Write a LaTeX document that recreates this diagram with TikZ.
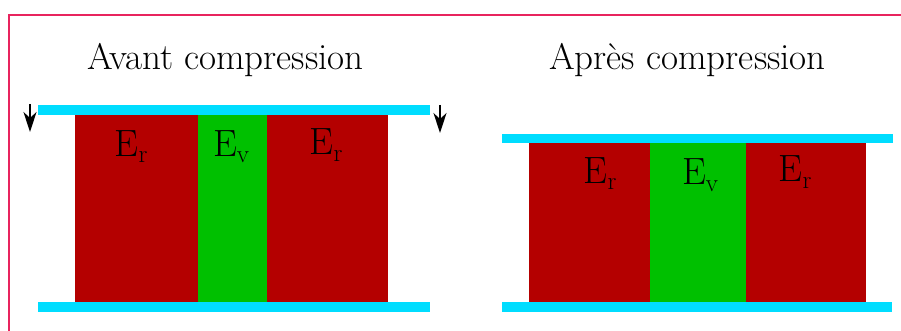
\documentclass[tikz,border=0pt]{standalone}
\usepackage{tikz}
\usetikzlibrary{arrows.meta}

\definecolor{cadreRose}{RGB}{232,36,94}
\definecolor{ressortRouge}{RGB}{180,0,0}
\definecolor{vitreVert}{RGB}{0,192,0}
\definecolor{plaqueCyan}{RGB}{0,221,255}

% E with a lowered index
\newcommand{\Eind}[1]{E\raisebox{-6pt}{\fontsize{25}{25}\selectfont #1}}

\begin{document}
\begin{tikzpicture}[x=1pt, y=-1pt,
  plaque/.style={fill=plaqueCyan},
  rouge/.style={fill=ressortRouge},
  vert/.style={fill=vitreVert},
  titre/.style={anchor=base, inner sep=0pt, font=\fontsize{37}{44}\selectfont},
  etiq/.style={anchor=base, inner sep=0pt, font=\fontsize{38}{44}\selectfont},
  fleche/.style={-{Stealth[length=20pt,width=13pt,inset=6pt]}, line width=1.8pt}
]
\useasboundingbox (0,0) rectangle (901,331);
\draw[cadreRose, line width=2.2pt] (9,15) rectangle (920,350);

% avant compression
\node[titre] (tavant) at (225.5,70) {Avant compression};
\fill[plaque] (38,105) rectangle (430,115);
\fill[rouge]  (75,115) rectangle (198,302);
\fill[vert]   (198,115) rectangle (267,302);
\fill[rouge]  (267,115) rectangle (388,302);
\fill[plaque] (38,302) rectangle (430,312);
\node[etiq] (er1) at (131,157) {\Eind{r}};
\node[etiq] (ev1) at (231,157) {\Eind{v}};
\node[etiq] (er2) at (326,155) {\Eind{r}};
\draw[fleche] (30,104) -- (30,132);
\draw[fleche] (440,105) -- (440,133);

% apres compression
\node[titre] (tapres) at (687.5,70) {Après compression};
\fill[plaque] (502,134) rectangle (893,143);
\fill[rouge]  (529,143) rectangle (650,302);
\fill[vert]   (650,143) rectangle (746,302);
\fill[rouge]  (746,143) rectangle (866,302);
\fill[plaque] (502,302) rectangle (892,312);
\node[etiq] (er3) at (600,183) {\Eind{r}};
\node[etiq] (ev2) at (700,185) {\Eind{v}};
\node[etiq] (er4) at (795,182) {\Eind{r}};
\end{tikzpicture}
\end{document}
